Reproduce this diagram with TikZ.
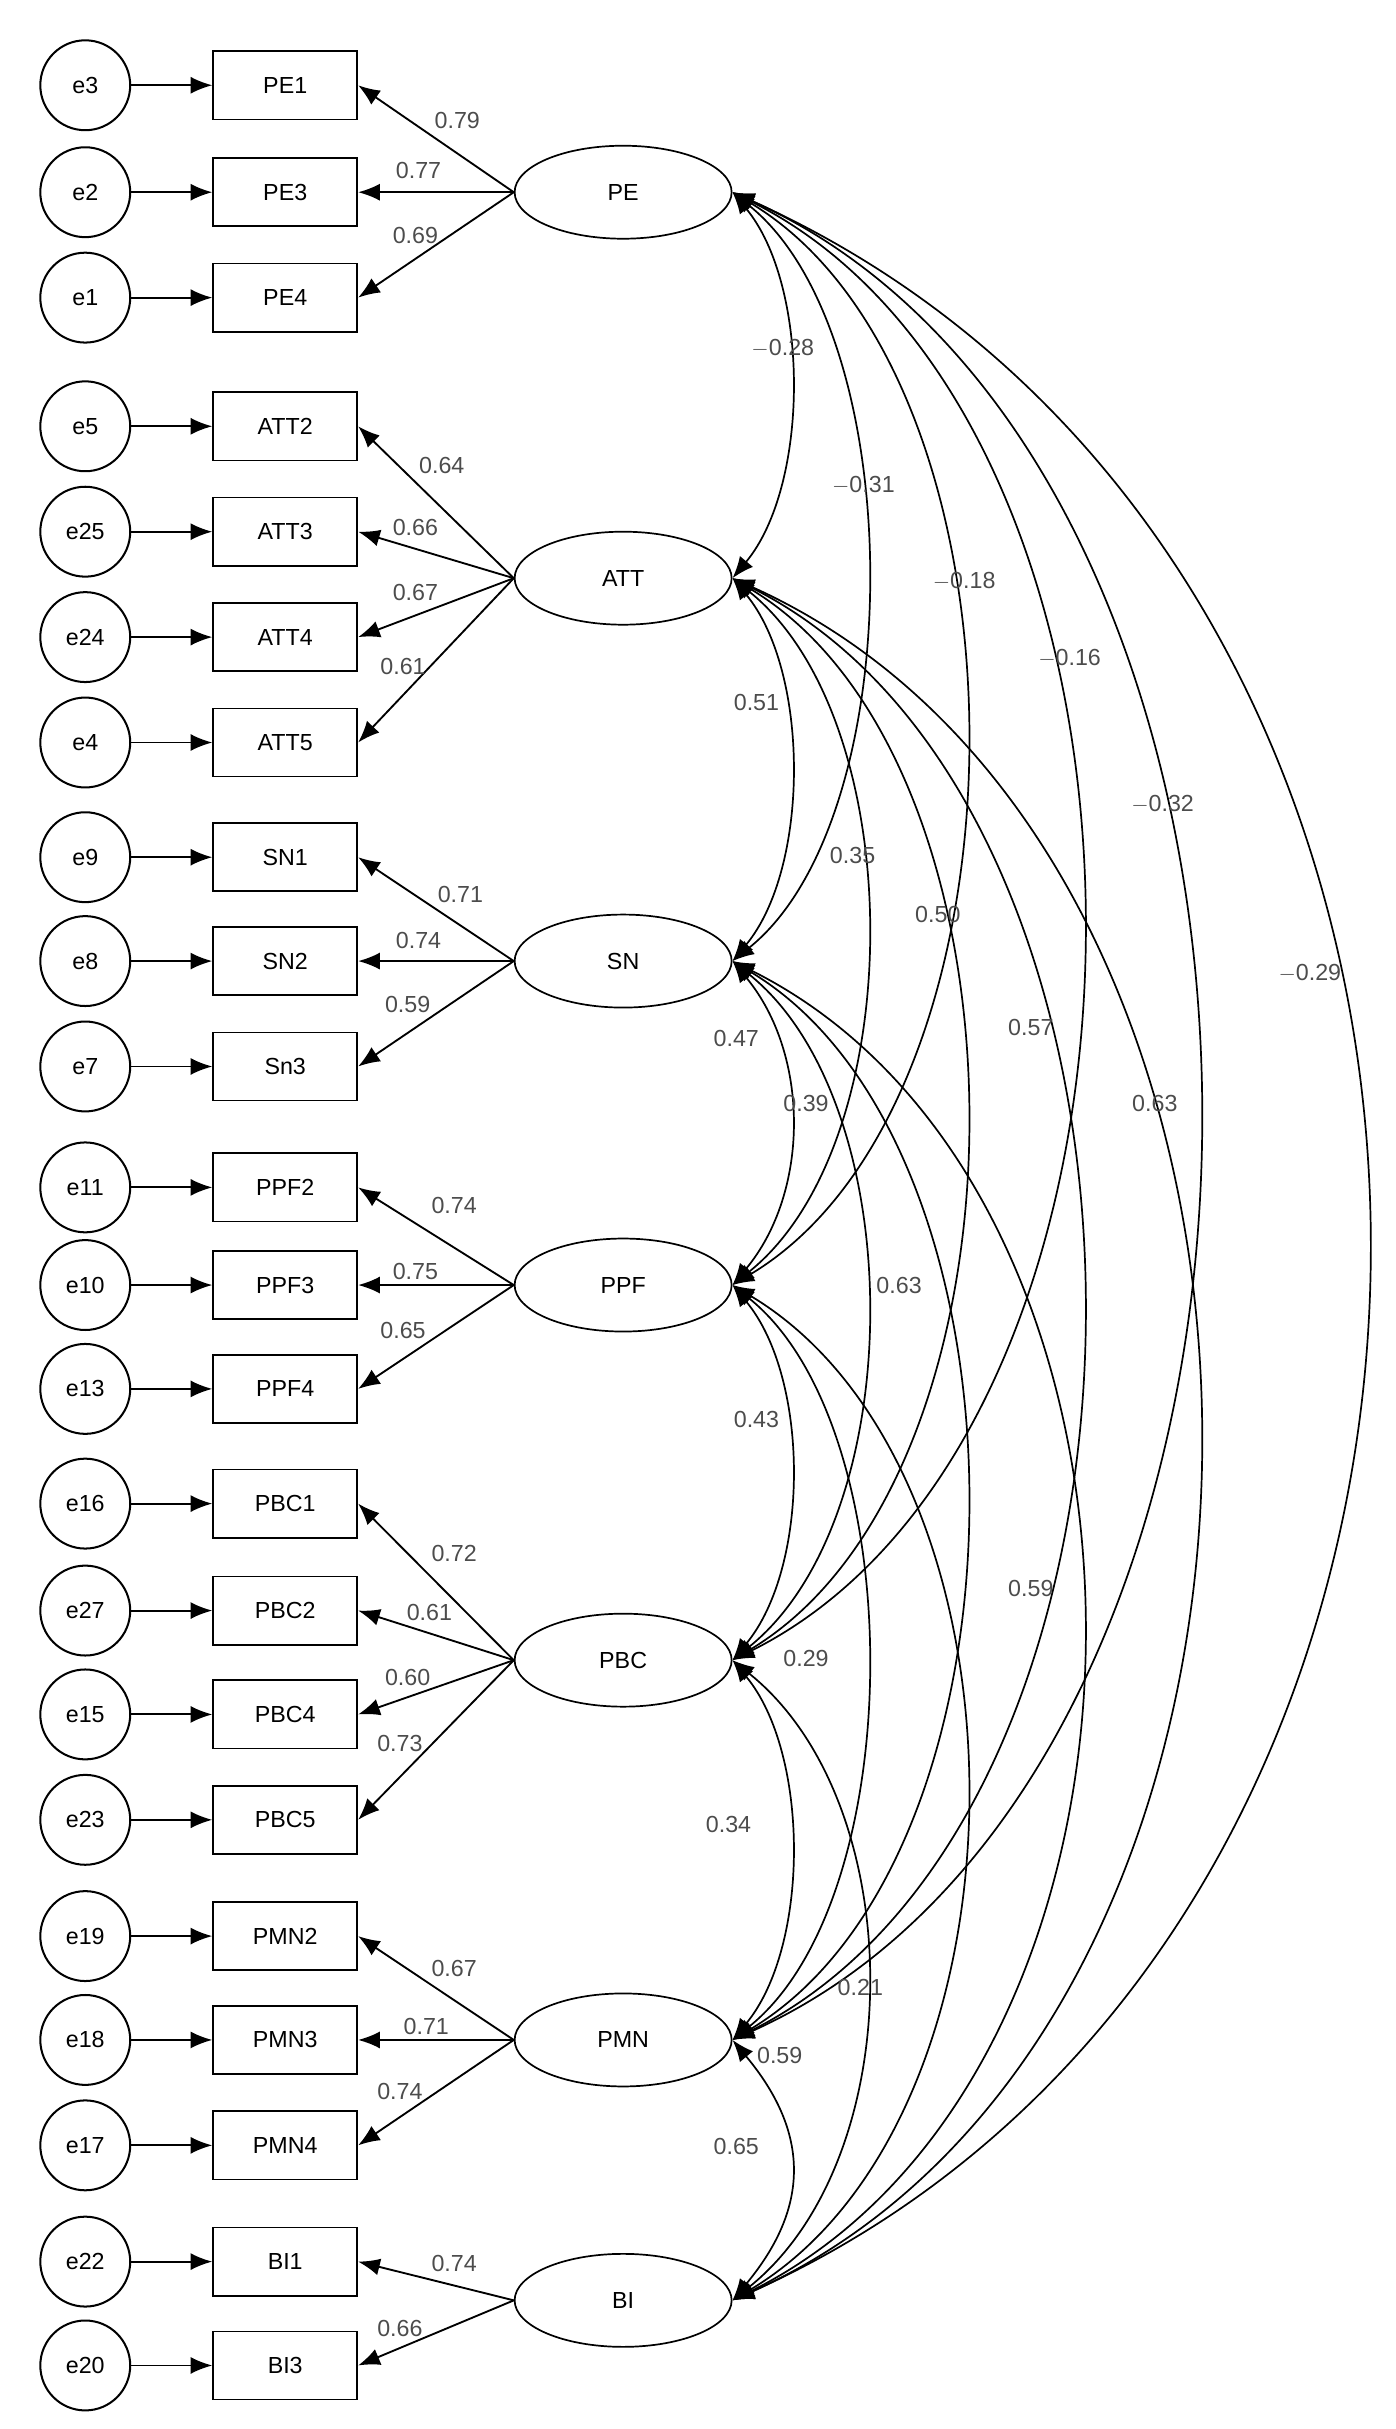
\documentclass[tikz,border=0pt]{standalone}
\usepackage{fontspec}
\setmainfont{Liberation Sans}
\usetikzlibrary{arrows.meta,shapes.geometric}
\begin{document}
\begin{tikzpicture}[x=1pt,y=-1pt,
  err/.style={circle,draw,line width=1.3pt,minimum size=58pt,inner sep=0pt,font=\fontsize{15}{18}\selectfont},
  obs/.style={rectangle,draw,line width=1.1pt,minimum width=93pt,minimum height=44pt,inner sep=0pt,font=\fontsize{15}{18}\selectfont},
  lat/.style={ellipse,draw,line width=1.1pt,minimum width=140pt,minimum height=60pt,inner sep=0pt,font=\fontsize{15}{18}\selectfont},
  arr/.style={-{Latex[length=14pt,width=11pt]},line width=1.2pt},
  cov/.style={{Latex[length=14pt,width=11pt]}-{Latex[length=14pt,width=11pt]},line width=1.1pt},
  lab/.style={font=\fontsize{15}{18}\selectfont,text=black!70,inner sep=1pt}]
\useasboundingbox (0,0) rectangle (900,1567);
% latents
\foreach \n/\y in {PE/124,ATT/373,SN/620,PPF/829,PBC/1071,PMN/1316,BI/1484}{\node[lat] (\n) at (402,\y) {\n};}
% indicators
\foreach \e/\b/\t/\y/\l in {e3/PE1/PE1/55/PE,e2/PE3/PE3/124/PE,e1/PE4/PE4/192/PE,
 e5/ATT2/ATT2/275/ATT,e25/ATT3/ATT3/343/ATT,e24/ATT4/ATT4/411/ATT,e4/ATT5/ATT5/479/ATT,
 e9/SN1/SN1/553/SN,e8/SN2/SN2/620/SN,e7/SN3/Sn3/688/SN,
 e11/PPF2/PPF2/766/PPF,e10/PPF3/PPF3/829/PPF,e13/PPF4/PPF4/896/PPF,
 e16/PBC1/PBC1/970/PBC,e27/PBC2/PBC2/1039/PBC,e15/PBC4/PBC4/1106/PBC,e23/PBC5/PBC5/1174/PBC,
 e19/PMN2/PMN2/1249/PMN,e18/PMN3/PMN3/1316/PMN,e17/PMN4/PMN4/1384/PMN,
 e22/BI1/BI1/1459/BI,e20/BI3/BI3/1526/BI}{
 \node[err] (\e) at (55,\y) {\e};
 \node[obs] (\b) at (184,\y) {\t};
 \draw[arr] (\e) -- (\b);
 \draw[arr] (\l.west) -- (\b.east);
}
% loading labels
\foreach \v/\x/\y in {0.79/295/78,0.77/270/110,0.69/268/152,
 0.64/285/300,0.66/268/340,0.67/268/382,0.61/260/430,
 0.71/297/577,0.74/270/607,0.59/263/648,
 0.74/293/778,0.75/268/820,0.65/260/858,
 0.72/293/1002,0.61/277/1040,0.60/263/1082,0.73/258/1125,
 0.67/293/1270,0.71/275/1307,0.74/258/1349,
 0.74/293/1460,0.66/258/1502}{\node[lab] at (\x,\y) {\v};}
% covariances
\foreach \a/\b/\c/\f in {PE/ATT/50/1.2,PE/SN/115/0.8,PE/PPF/200/0.6,PE/PBC/300/0.5,PE/PMN/400/0.45,PE/BI/545/0.45,
 ATT/SN/50/1.2,ATT/PPF/115/0.8,ATT/PBC/200/0.6,ATT/PMN/300/0.5,ATT/BI/400/0.45,
 SN/PPF/50/1.2,SN/PBC/115/0.8,SN/PMN/200/0.6,SN/BI/300/0.5,
 PPF/PBC/50/1.2,PPF/PMN/115/0.8,PPF/BI/200/0.6,
 PBC/PMN/50/1.2,PBC/BI/115/0.8,PMN/BI/50/1.2}{
 \pgfmathsetmacro\h{\f*\c}
 \draw[cov] (\a.east) .. controls +(\c,\h) and +(\c,-\h) .. (\b.east);}
\foreach \v/\x/\y in {$-$0.28/505/225,$-$0.31/557/313,$-$0.18/622/375,$-$0.16/690/425,$-$0.32/750/519,$-$0.29/845/628,
 0.51/488/453,0.35/550/552,0.50/605/590,0.57/665/663,0.63/745/712,
 0.47/475/670,0.39/520/712,0.63/580/829,0.59/665/1025,
 0.43/488/916,0.29/520/1070,0.21/555/1282,
 0.34/470/1177,0.59/503/1326,0.65/475/1385}{\node[lab] at (\x,\y) {\v};}
\end{tikzpicture}
\end{document}
